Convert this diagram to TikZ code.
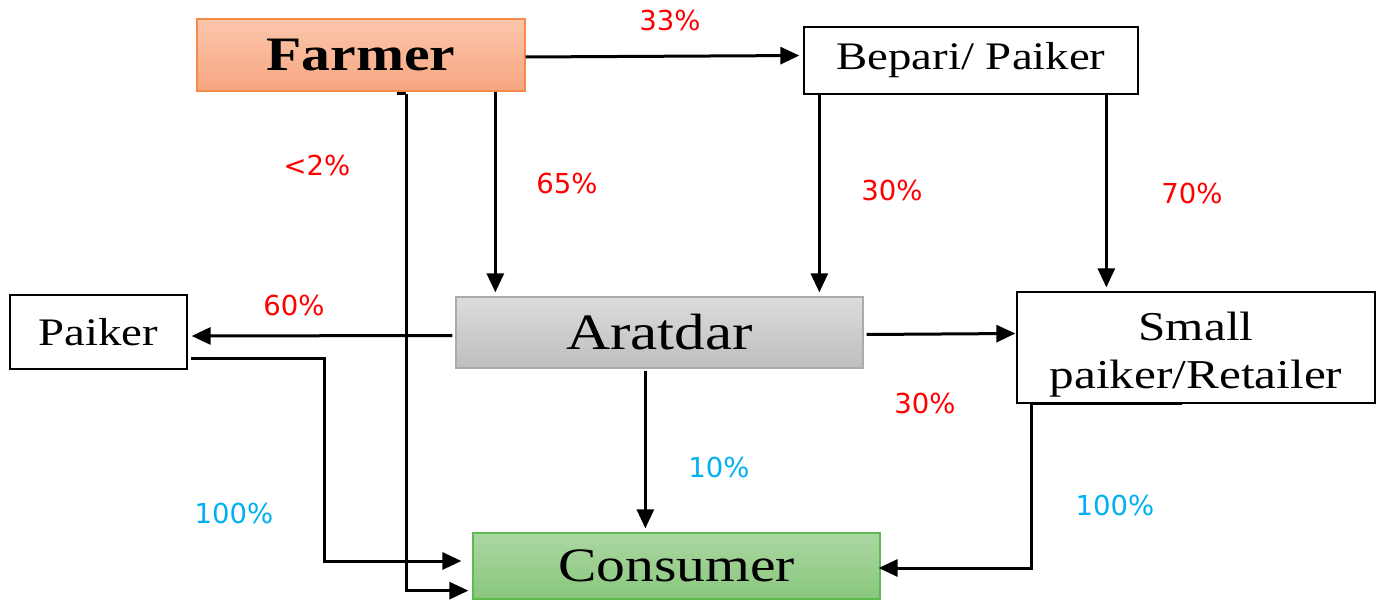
\documentclass[tikz,border=0pt]{standalone}
\usepackage{fontspec}
\usetikzlibrary{arrows.meta,calc}
\newfontfamily\boxfont[FakeStretch=1.2]{Liberation Serif}
\newfontfamily\lblfont{DejaVu Sans}
\definecolor{farmtop}{HTML}{FBC6AC}
\definecolor{farmbot}{HTML}{F7A680}
\definecolor{farmline}{HTML}{F58A4B}
\definecolor{aratop}{HTML}{DCDCDC}
\definecolor{arabot}{HTML}{BEBEBE}
\definecolor{araline}{HTML}{ABABAB}
\definecolor{constop}{HTML}{ABD7A2}
\definecolor{consbot}{HTML}{89C77C}
\definecolor{consline}{HTML}{5DBB4F}
\definecolor{pctred}{HTML}{FF0000}
\definecolor{pctcyan}{HTML}{00B0F0}
\tikzset{
  box/.style={draw=black, line width=1.3pt, inner sep=0pt, align=center, font=\boxfont},
  conn/.style={line width=3pt, -{Triangle[length=19pt,width=17pt]}, shorten >=4pt},
  plain/.style={line width=3pt},
  redlbl/.style={text=pctred, font=\lblfont\fontsize{27.5}{30}\selectfont, inner sep=0pt},
  cyanlbl/.style={text=pctcyan, font=\lblfont\fontsize{27.5}{30}\selectfont, inner sep=0pt}
}
\begin{document}
\begin{tikzpicture}[x=1pt,y=-1pt]
\useasboundingbox (0,0) rectangle (1379,601);
% nodes
\node[box, draw=farmline, top color=farmtop, bottom color=farmbot, minimum width=328pt, minimum height=72pt,
  font=\boxfont\bfseries\fontsize{48}{52}\selectfont] (farmer) at (361,55) {Farmer};
\node[box, minimum width=334pt, minimum height=67pt, font=\boxfont\fontsize{39}{42}\selectfont] (bepari) at (971,60.5) {Bepari/ Paiker};
\node[box, minimum width=177pt, minimum height=74pt, font=\boxfont\fontsize{39}{42}\selectfont] (paiker) at (98.5,332) {Paiker};
\node[box, draw=araline, top color=aratop, bottom color=arabot, minimum width=407pt, minimum height=71pt,
  font=\boxfont\fontsize{51}{54}\selectfont] (aratdar) at (659.5,332.5) {Aratdar};
\node[box, minimum width=358pt, minimum height=111pt, font=\boxfont\fontsize{41}{46}\selectfont] (small) at (1196,347.5) {\rule{0pt}{42pt}Small\\[2pt]paiker/Retailer};
\node[box, draw=consline, top color=constop, bottom color=consbot, minimum width=407pt, minimum height=66pt,
  font=\boxfont\fontsize{48}{52}\selectfont] (consumer) at (676.5,566) {Consumer};
% connectors
\draw[conn] ($(farmer.east)+(0,2)$) -- ($(bepari.west)+(0,-5)$);
\draw[conn] ($(farmer.south west)+(299,0)$) coordinate (f65) -- (f65 |- aratdar.north);
\draw[plain] ($(farmer.south west)+(201,2)$) -- ($(farmer.south west)+(210,2)$) coordinate (f2);
\draw[conn] (f2) |- ($(consumer.south west)+(0,-9)$);
\draw[conn] ($(bepari.south west)+(16,0)$) coordinate (b30) -- (b30 |- aratdar.north);
\draw[conn] ($(bepari.south west)+(303,0)$) coordinate (b70) -- (b70 |- small.north);
\draw[conn] ($(aratdar.west)+(-3,3)$) -- ($(paiker.east)+(0,4)$);
\draw[conn, shorten >=1pt] ($(aratdar.east)+(3,2)$) -- ($(small.west)+(0,-14)$);
\draw[conn] ($(aratdar.south west)+(190,2)$) coordinate (a10) -- (a10 |- consumer.north);
\draw[conn, shorten >=11pt] ($(paiker.south east)+(3,-11)$) -| ($(consumer.west)+(-148,-5)$) -- ($(consumer.west)+(0,-5)$);
\draw[plain] ($(small.south west)+(166,0)$) -- ($(small.south west)+(15,0)$) coordinate (s100);
\draw[conn, shorten >=-2pt] (s100) |- ($(consumer.east)+(0,2)$);
% labels
\node[redlbl] (l33) at (670,20) {33\%};
\node[redlbl] (l2) at (317,165) {<2\%};
\node[redlbl] (l65) at (567,183) {65\%};
\node[redlbl] (l30a) at (892,190) {30\%};
\node[redlbl] (l70) at (1192,193) {70\%};
\node[redlbl] (l60) at (294,305) {60\%};
\node[redlbl] (l30b) at (925,403) {30\%};
\node[cyanlbl] (l10) at (719,467) {10\%};
\node[cyanlbl] (l100a) at (234,513) {100\%};
\node[cyanlbl] (l100b) at (1115,505) {100\%};
\end{tikzpicture}
\end{document}
